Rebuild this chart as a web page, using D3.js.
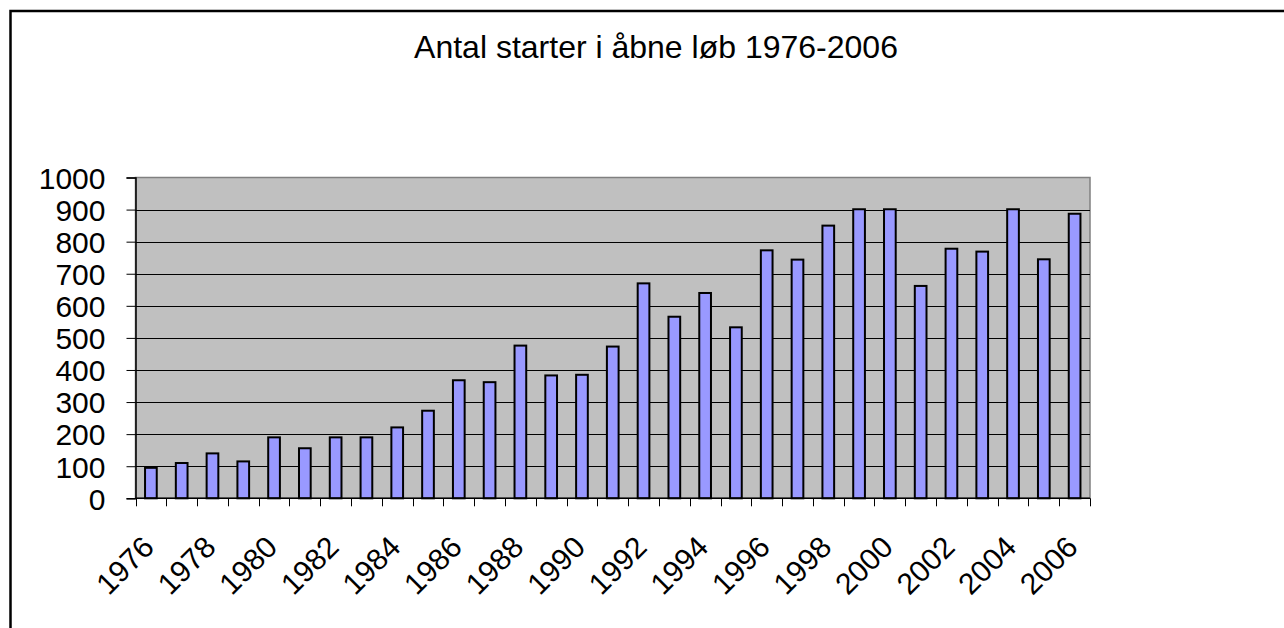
<!DOCTYPE html>
<html>
<head>
<meta charset="utf-8">
<script src="https://cdn.jsdelivr.net/npm/d3@7"></script>
<style>
html,body{margin:0;padding:0;background:#fff;}
svg{display:block;}
text{font-family:"Liberation Sans",Arial,sans-serif;fill:#000;}
</style>
</head>
<body>
<svg id="chart" width="1284" height="628"></svg>
<script>
const title = "Antal starter i åbne løb 1976-2006";
const years = ["1976","1977","1978","1979","1980","1981","1982","1983","1984","1985","1986","1987","1988","1989","1990","1991","1992","1993","1994","1995","1996","1997","1998","1999","2000","2001","2002","2003","2004","2005","2006"];
const starts = [95,110,140,115,190,156,190,190,221,273,368,362,476,383,385,473,670,566,640,533,773,744,850,901,901,662,778,769,901,745,887];
const yTicks = [0,100,200,300,400,500,600,700,800,900,1000];
const xLabelYears = years.filter((d,i)=>i%2===0);

const svg = d3.select("#chart");
const W = 1284, H = 628;
svg.append("rect").attr("width",W).attr("height",H).attr("fill","#fff");
// outer frame
svg.append("rect").attr("x",10.5).attr("y",11).attr("width",1400).attr("height",800)
  .attr("fill","none").attr("stroke","#000").attr("stroke-width",2.5);

const L = 135.5, R = 1090, T = 177.5, B = 498.3;
const x = d3.scaleBand().domain(years).range([L,R]).paddingInner(0).paddingOuter(0);
const y = d3.scaleLinear().domain([0,1000]).range([B,T]);

// plot background
svg.append("rect").attr("x",L).attr("y",T).attr("width",R-L).attr("height",B-T)
  .attr("fill","#c0c0c0").attr("stroke","#808080").attr("stroke-width",1.5);

// gridlines
svg.append("g").selectAll("line").data(yTicks.filter(d=>d>0&&d<1000)).join("line")
  .attr("x1",L).attr("x2",R).attr("y1",d=>Math.round(y(d))+0.5).attr("y2",d=>Math.round(y(d))+0.5)
  .attr("stroke","#000").attr("stroke-width",1);

// bars
const bw = x.bandwidth()*0.38;
svg.append("g").selectAll("rect").data(years).join("rect")
  .attr("x",(d)=>x(d)+x.bandwidth()/2-bw/2)
  .attr("y",(d,i)=>y(starts[i]))
  .attr("width",bw)
  .attr("height",(d,i)=>B-y(starts[i]))
  .attr("fill","#9999ff").attr("stroke","#000").attr("stroke-width",2);

// y axis
const yAxis = d3.axisLeft(y).tickValues(yTicks).tickSize(9).tickPadding(21).tickFormat(d3.format("d"));
const gy = svg.append("g").attr("transform",`translate(${L},0)`).call(yAxis);
gy.select(".domain").attr("stroke","#000").attr("stroke-width",1.5);
gy.selectAll(".tick line").attr("stroke","#000");
gy.selectAll(".tick text").attr("font-size",30).attr("font-family","Liberation Sans, Arial, sans-serif").attr("fill","#000").attr("dy","0.36em");

// x axis line and ticks at band boundaries
const bounds = years.map(d=>x(d)).concat([R]);
svg.append("line").attr("x1",L).attr("x2",R).attr("y1",B).attr("y2",B).attr("stroke","#000").attr("stroke-width",1.5);
svg.append("g").selectAll("line").data(bounds).join("line")
  .attr("x1",d=>Math.round(d)+0.5).attr("x2",d=>Math.round(d)+0.5).attr("y1",B).attr("y2",B+8)
  .attr("stroke","#000").attr("stroke-width",1);

// x labels
svg.append("g").selectAll("text").data(xLabelYears).join("text")
  .attr("transform",d=>`translate(${x(d)+x.bandwidth()/2+5},549) rotate(-45)`)
  .attr("text-anchor","end").attr("font-size",30).text(d=>d);

// title
svg.append("text").attr("x",656).attr("y",57.5).attr("text-anchor","middle")
  .attr("font-size",32).text(title);
</script>
</body>
</html>
